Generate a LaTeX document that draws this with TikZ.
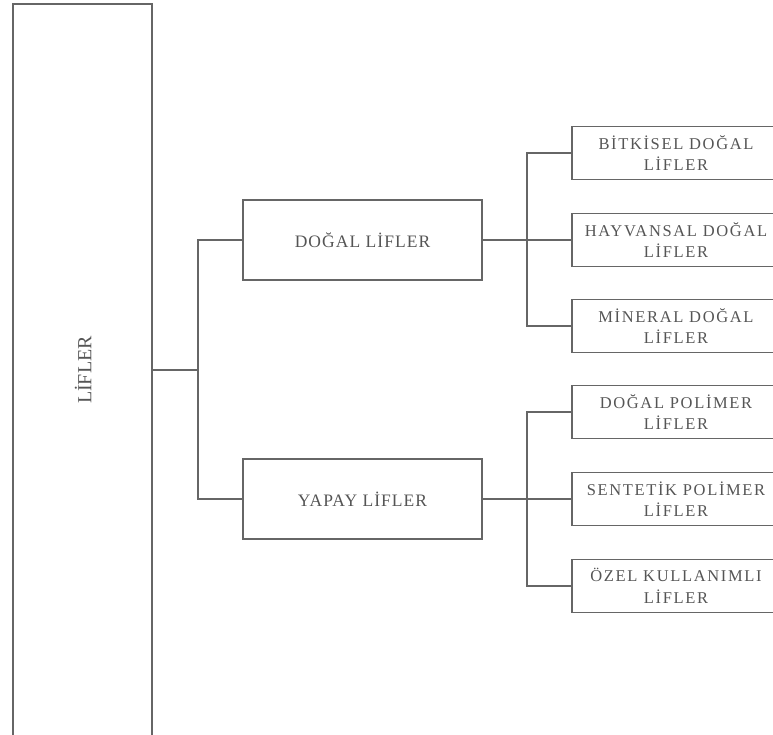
\documentclass[tikz,border=0pt]{standalone}
\usepackage{fontspec}
\setmainfont{Liberation Serif}
\definecolor{kenar}{HTML}{666666}
\definecolor{yazi}{HTML}{555555}

\begin{document}
\begin{tikzpicture}[x=1pt,y=-1pt,
  kutu/.style={draw=kenar,line width=1.2pt,text=yazi,align=center,inner sep=0pt},
  orta/.style={kutu,minimum width=239,minimum height=80,
    font=\fontsize{17.5}{21}\selectfont\addfontfeatures{LetterSpace=6}},
  sag/.style={kutu,minimum width=208,minimum height=53,
    font=\fontsize{16.5}{21.5}\selectfont\addfontfeatures{LetterSpace=10}},
  bag/.style={draw=kenar,line width=1.2pt}]
  \useasboundingbox (0,0) rectangle (773,735);
  \clip (0,0) rectangle (773,735);

  % ana kutu, alt kenari sayfanin disinda
  \node[kutu,minimum width=139,minimum height=760] (lif) at (82.5,384) {};
  \node[text=yazi,rotate=90,font=\fontsize{20}{24}\selectfont] (lifad) at (83,370) {LİFLER};

  \node[orta] (dogal) at (362.5,240) {DOĞAL LİFLER};
  \node[orta] (yapay) at (362.5,499) {YAPAY LİFLER};

  \node[sag] (bitki)   at (676,153) {BİTKİSEL DOĞAL\\LİFLER};
  \node[sag] (hayvan)  at (676,240) {HAYVANSAL DOĞAL\\LİFLER};
  \node[sag] (mineral) at (676,326) {MİNERAL DOĞAL\\LİFLER};
  \node[sag] (dpol)    at (676,412) {DOĞAL POLİMER\\LİFLER};
  \node[sag] (spol)    at (676,499) {SENTETİK POLİMER\\LİFLER};
  \node[sag] (ozel)    at (676,586) {ÖZEL KULLANIMLI\\LİFLER};

  \coordinate (k1) at (198,370);
  \coordinate (k2) at (527,240);
  \coordinate (k3) at (527,499);

  \draw[bag] (lif.east |- k1) -- (k1);
  \draw[bag] (dogal.west) -| (k1) |- (yapay.west);

  \draw[bag] (dogal.east) -- (k2) -- (hayvan.west);
  \draw[bag] (bitki.west) -| (k2) |- (mineral.west);

  \draw[bag] (yapay.east) -- (k3) -- (spol.west);
  \draw[bag] (dpol.west) -| (k3) |- (ozel.west);
\end{tikzpicture}
\end{document}
